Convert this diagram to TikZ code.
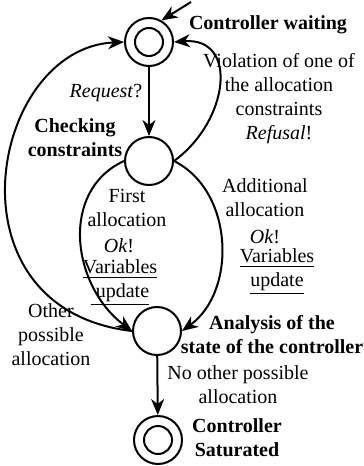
\documentclass[tikz,border=0pt]{standalone}
\usepackage{fontspec}
\setmainfont{Liberation Serif}
\usetikzlibrary{arrows.meta}
\begin{document}
\begin{tikzpicture}[x=0.5pt,y=-0.5pt,
  state/.style={circle,draw,line width=1pt,minimum size=24pt,inner sep=0pt},
  final/.style={state,path picture={\draw[line width=1pt] (path picture bounding box.center) circle[radius=7pt];}},
  lbl/.style={inner sep=0pt,align=center},
  edge/.style={line width=1pt,-{Stealth[length=8pt,width=6.5pt,inset=2.5pt]}},
]
\useasboundingbox (0,0) rectangle (364,466);

% states
\node[final] (wait) at (149,42) {};
\node[state] (check) at (149,161) {};
\node[state] (ana) at (157,331) {};
\node[final] (sat) at (158,440) {};
\coordinate (init) at (191,2);

% transitions
\draw[edge] (init) -- (wait.60);
\draw[edge] (wait) -- (check);
\draw[edge] (check.east) .. controls +(55,-40) and +(65,-5) .. (wait.east);
\draw[edge] (check.east) .. controls +(60,30) and +(55,-40) .. (ana.east);
\draw[edge] (check.west) .. controls +(-65,30) and +(-60,-45) .. (ana.west);
\draw[edge] (ana.west) .. controls +(-190,-22) and +(-134,6) .. (wait.west);
\draw[edge] (ana) -- (sat);

% labels
\node[lbl,font=\bfseries,anchor=base] (tw) at (268,29) {Controller waiting};
\node[lbl] (tv) at (279,99) {Violation of one of\\the allocation\\constraints\\\textit{Refusal}!};
\node[lbl,anchor=base] (treq) at (106,97) {\textit{Request}?};
\node[lbl,font=\bfseries] (tchk) at (75,138) {Checking\\constraints};
\node[lbl] (tfirst) at (127,208) {First\\allocation};
\node[lbl,anchor=base] (tok1) at (119,252) {\textit{Ok}!};
\node[lbl] (tvar1) at (120,283) {\underline{Variables}\\\underline{\ update}};
\node[lbl] (tadd) at (265,198) {Additional\\allocation};
\node[lbl,anchor=base] (tok2) at (265,243) {\textit{Ok}!};
\node[lbl] (tvar2) at (277,272) {\underline{Variables}\\\underline{update}};
\node[lbl] (tother) at (51,335) {Other\\possible\\allocation};
\node[lbl,font=\bfseries] (tana) at (272,335) {Analysis of the\\state of the controller};
\node[lbl] (tno) at (238,385) {No other possible\\allocation};
\node[lbl,font=\bfseries] (tsat) at (237,438) {Controller\\Saturated};
\end{tikzpicture}
\end{document}
